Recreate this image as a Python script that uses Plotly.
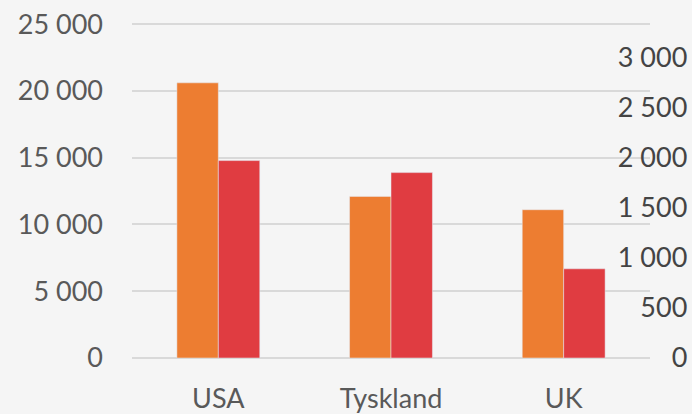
import plotly.graph_objects as go

# data
land = ["USA", "Tyskland", "UK"]
serie_venstre = [20600, 12100, 11100]   # left axis (orange)
serie_hoyre = [1970, 1850, 890]         # right axis (red)

venstre_ticks = [0, 5000, 10000, 15000, 20000, 25000]
venstre_tekst = ["0", "5 000", "10 000", "15 000", "20 000", "25 000"]
hoyre_ticks = [0, 500, 1000, 1500, 2000, 2500, 3000]
hoyre_tekst = ["0", "500", "1 000", "1 500", "2 000", "2 500", "3 000"]

fig = go.Figure()
fig.add_trace(go.Bar(x=land, y=serie_venstre, marker_color="#ED7D31",
                     offsetgroup=1, yaxis="y", showlegend=False))
fig.add_trace(go.Bar(x=land, y=serie_hoyre, marker_color="#E03C41",
                     offsetgroup=2, yaxis="y2", showlegend=False))

fig.update_layout(
    width=692, height=414,
    margin=dict(l=132, r=0, t=23, b=56),
    paper_bgcolor="#F5F5F5", plot_bgcolor="#F5F5F5",
    font=dict(family="Lato, Open Sans, sans-serif", size=27, color="#595959"),
    barmode="group", bargap=0.52, bargroupgap=0,
    xaxis=dict(domain=[0, 0.925], showgrid=False, showline=False, zeroline=False,
               ticks="", ticklabelstandoff=22),
    # a little headroom so the 25 000 gridline is not clipped
    yaxis=dict(range=[0, 25080], tickvals=venstre_ticks, ticktext=venstre_tekst,
               showgrid=True, gridcolor="#D9D9D9", gridwidth=1.5,
               zeroline=True, zerolinecolor="#D9D9D9", zerolinewidth=1.5,
               showline=False, ticks="", ticklabelstandoff=28),
    yaxis2=dict(range=[0, 3343], tickvals=hoyre_ticks, ticktext=hoyre_tekst,
                overlaying="y", side="right", anchor="free", position=0.997,
                ticklabelposition="inside", ticklabeloverflow="allow",
                showgrid=False, zeroline=False, showline=False, ticks=""),
)

# drop the default page margin so the chart sits at the window's corner
fig.write_html("out.html", config={"displayModeBar": False},
               post_script="document.body.style.margin='0';")
